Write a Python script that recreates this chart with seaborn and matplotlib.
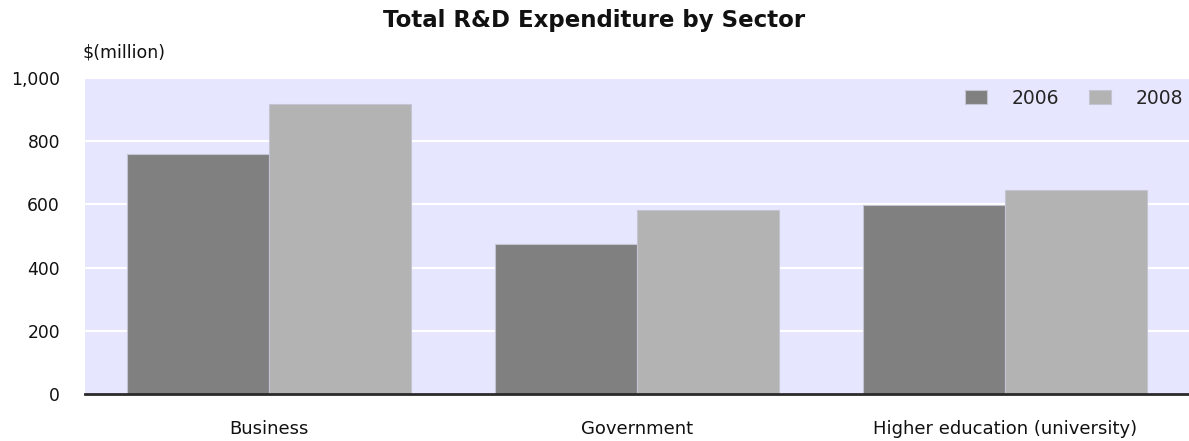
import matplotlib
matplotlib.use("Agg")
import matplotlib.pyplot as plt
import seaborn as sns
import pandas as pd
from matplotlib.ticker import FuncFormatter

sectors = ["Business", "Government", "Higher education (university)"]
years = ["2006", "2008"]
values_2006 = [760, 476, 597]
values_2008 = [918, 582, 647]
yticks = [0, 200, 400, 600, 800, 1000]

df = pd.DataFrame({
    "Sector": sectors * 2,
    "Year": [years[0]] * 3 + [years[1]] * 3,
    "Value": values_2006 + values_2008,
})

sns.set_theme(style="white")
plt.rcParams['font.family'] = ['DejaVu Sans']

W, H = 1189, 441
fig = plt.figure(figsize=(W/100, H/100), dpi=100)
ax = fig.add_axes([85/W, 47/H, 1 - 85/W, (394-78)/H])
ax.set_facecolor("#E6E6FE")

sns.barplot(data=df, x="Sector", y="Value", hue="Year", hue_order=years,
            palette=["#808080", "#B3B3B3"], width=0.77, saturation=1,
            edgecolor="#C4C4D4", linewidth=0.8, ax=ax, zorder=3)

ax.set_ylim(0, 1000)
ax.set_xlim(-0.5, 2.5)
ax.set_yticks(yticks)
ax.yaxis.set_major_formatter(FuncFormatter(lambda v, p: f"{int(v):,}"))
ax.grid(axis="y", color="white", linewidth=1.5, zorder=0)
ax.set_axisbelow(True)
for s in ["top", "right", "left"]:
    ax.spines[s].set_visible(False)
ax.spines["bottom"].set_color("#2A2A2A")
ax.spines["bottom"].set_linewidth(2)
ax.spines["bottom"].set_zorder(5)
ax.tick_params(axis="y", length=0, pad=18, labelsize=12.3, colors="#111111")
ax.tick_params(axis="x", length=0, pad=19, labelsize=13, colors="#111111")
ax.set_xlabel("")
ax.set_ylabel("")

leg = ax.legend(loc="center right", ncol=2, frameon=False, fontsize=13.5,
                handlelength=1.17, handleheight=0.7, handletextpad=1.33,
                columnspacing=1.55, borderpad=0, borderaxespad=0,
                bbox_to_anchor=(1183/W, 1 - 98/H), bbox_transform=fig.transFigure)

fig.text(0.5, 1 - 20/H, "Total R&D Expenditure by Sector", ha="center", va="center",
         fontsize=16.5, fontweight="bold", color="#111111")
fig.text(83/W, 1 - 53/H, "$(million)", ha="left", va="center",
         fontsize=12.5, color="#111111")

fig.savefig("out.png", dpi=100)
